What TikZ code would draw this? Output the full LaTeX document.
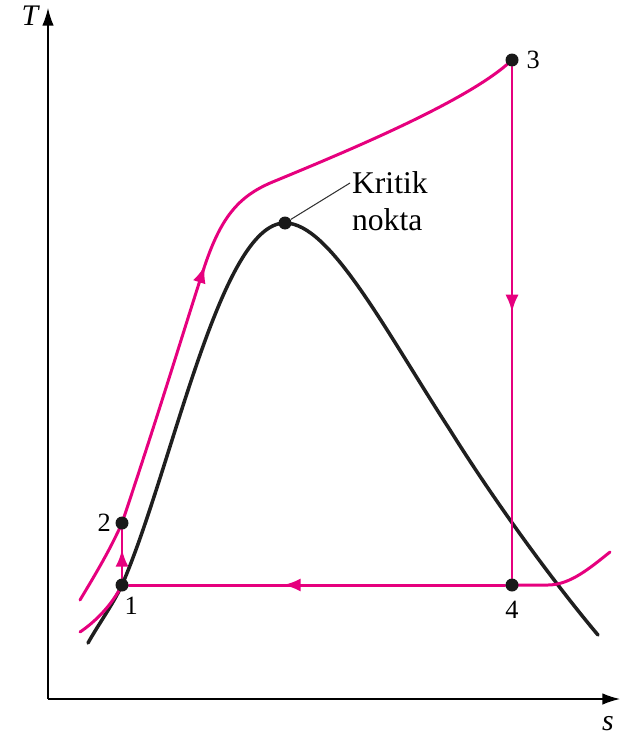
\documentclass[tikz,border=0pt]{standalone}
\usepackage{fontspec}
\setmainfont{Liberation Serif}
\usetikzlibrary{positioning,arrows.meta,decorations.markings,backgrounds}
\definecolor{rosa}{RGB}{230,0,126}
\begin{document}
\begin{tikzpicture}[
        x=0.02cm, y=-0.02cm,
        punto/.style={
            circle,
            fill=black!90,
            inner sep=0pt,
            minimum size=0.26cm
        },
        numero/.style={inner sep=0pt, font=\fontsize{15}{18}\selectfont},
        testo/.style={inner sep=1pt, font=\fontsize{18}{22}\selectfont},
        ciclo/.style={draw=rosa, line width=1.7pt, line cap=round, line join=round},
        cupola/.style={draw=black!88, line width=2pt, line cap=round},
        freccia/.style={
            postaction={decorate},
            decoration={markings, mark=at position #1 with {\arrow[rosa]{Latex[length=10pt,width=7.5pt]}}}
        }
    ]
    \useasboundingbox (0,0) rectangle (621,737);

    % Assi
    \coordinate (o) at (48,699);
    \coordinate (ty) at (48,8);
    \coordinate (sx) at (620,699);
    \draw[line width=0.8pt, -{Latex[length=10pt,width=6.5pt]}] (o) -- (ty);
    \draw[line width=0.8pt, -{Latex[length=10pt,width=6.5pt]}] (o) -- (sx);
    \node[font=\fontsize{17}{20}\selectfont\itshape] (tlab) at (30,16) {T};
    \node[font=\fontsize{17}{20}\selectfont\itshape] (slab) at (608,724) {s};

    % Punti del ciclo
    \node[punto] (n1) at (122,585) {};
    \node[punto] (n2) at (122,523) {};
    \node[punto] (n3) at (512,60) {};
    \node[punto] (n4) at (512,585) {};
    \node[punto] (kp) at (285,223) {};

    % Etichette
    \node[numero, below right=0.14cm and -0.05cm of n1] (l1) {1};
    \node[numero, left=0.08cm of n2] (l2) {2};
    \node[numero, right=0.15cm of n3] (l3) {3};
    \node[numero, below=0.17cm of n4] (l4) {4};
    \node[testo, anchor=west] (kritik) at (350,183) {Kritik};
    \node[testo, below=0.74cm of kritik.west, anchor=west] (nokta) {nokta};

    \begin{scope}[on background layer]
        % Campana di saturazione
        \coordinate (c0) at (88,643);
        \coordinate (c1) at (598,635);
        \draw[cupola] (c0) .. controls (98,625) and (112,606) .. (n1.center)
            .. controls (172,470) and (220,223) .. (kp.center)
            .. controls (330,223) and (385,330) .. (450,430)
            .. controls (500,510) and (560,590) .. (c1);

        % Isobare
        \coordinate (a0) at (80,632);
        \coordinate (b0) at (80,600);
        \coordinate (r0) at (548,585);
        \coordinate (r1) at (610,552);
        \draw[ciclo] (a0) .. controls (95,622) and (112,605) .. (n1.center);
        \draw[ciclo] (n4.center) -- (r0) .. controls (570,585) and (590,568) .. (r1);
        \draw[ciclo] (b0) .. controls (95,575) and (110,550) .. (n2.center);

        % Ciclo
        \draw[ciclo, freccia=0.6] (n1) -- (n2);
        \draw[ciclo, freccia=0.415] (n2.center) .. controls (160,410) and (190,310) .. (205,265)
            .. controls (222,215) and (240,195) .. (275,181)
            .. controls (350,150) and (470,100) .. (n3.center);
        \draw[ciclo, freccia=0.48] (n3) -- (n4);
        \draw[ciclo, freccia=0.59] (n4) -- (n1);

        % Punto critico
        \draw[line width=0.6pt, black!80] (kp) -- (kritik.west);
    \end{scope}
\end{tikzpicture}
\end{document}
